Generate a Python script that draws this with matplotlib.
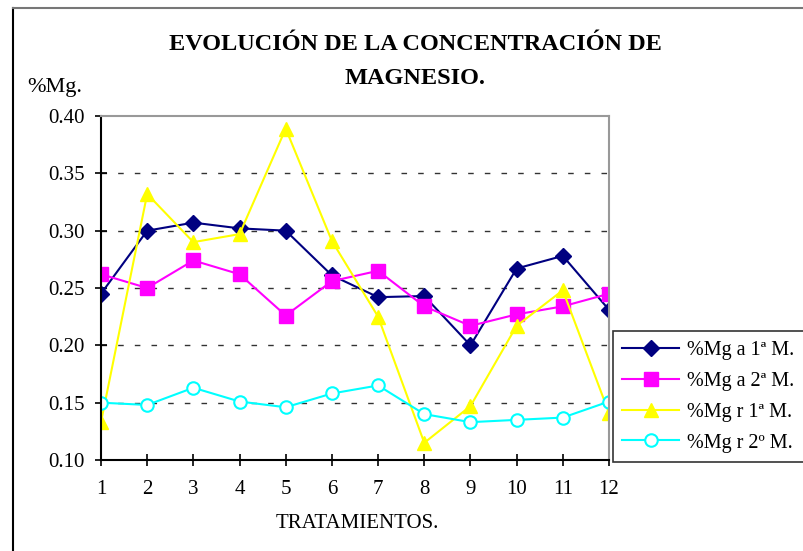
import matplotlib.pyplot as plt
from matplotlib.lines import Line2D

# data
tratamientos = list(range(1, 13))
mg_a_1m = [0.245, 0.300, 0.307, 0.302, 0.300, 0.261, 0.242, 0.243, 0.200, 0.267, 0.278, 0.231]
mg_a_2m = [0.262, 0.250, 0.274, 0.262, 0.226, 0.256, 0.265, 0.234, 0.217, 0.227, 0.234, 0.245]
mg_r_1m = [0.133, 0.332, 0.290, 0.297, 0.389, 0.291, 0.225, 0.115, 0.147, 0.217, 0.248, 0.141]
mg_r_2m = [0.150, 0.148, 0.163, 0.151, 0.146, 0.158, 0.165, 0.140, 0.133, 0.135, 0.137, 0.151]
labels = ['%Mg a 1ª M.', '%Mg a 2ª M.', '%Mg r 1ª M.', '%Mg r 2º M.']

plt.rcParams['font.family'] = ['Liberation Serif', 'DejaVu Serif']

W, H = 804, 551
fig = plt.figure(figsize=(W / 100, H / 100), dpi=100)
ax = fig.add_axes([101 / W, 1 - 460 / H, (609 - 101) / W, (460 - 116) / H])

# outer chart border (left and top edges are visible)
fig.add_artist(Line2D([13 / W, 13 / W], [0, 1 - 7.5 / H], transform=fig.transFigure,
                      color='black', lw=1.5))
fig.add_artist(Line2D([13 / W, 1], [1 - 7.5 / H, 1 - 7.5 / H], transform=fig.transFigure,
                      color='#777777', lw=1.5))

ax.plot(tratamientos, mg_a_1m, color='#000080', marker='D', markersize=8, lw=1.5, label=labels[0])
ax.plot(tratamientos, mg_a_2m, color='#FF00FF', marker='s', markersize=10, lw=1.5, label=labels[1])
ax.plot(tratamientos, mg_r_1m, color='#FFFF00', marker='^', markersize=10, lw=1.5, label=labels[2])
ax.plot(tratamientos, mg_r_2m, color='#00FFFF', marker='o', markersize=9, lw=1.5,
        markerfacecolor='white', markeredgewidth=1.5, label=labels[3])

ax.set_xlim(1, 12)
ax.set_ylim(0.10, 0.40)
ax.set_xticks(tratamientos)
ax.set_yticks([0.10, 0.15, 0.20, 0.25, 0.30, 0.35, 0.40])
ax.yaxis.set_major_formatter(plt.FuncFormatter(lambda v, p: '%.2f' % v))
ax.tick_params(labelsize=15, direction='inout', length=9, width=1.2)
ax.tick_params(axis='x', pad=10)
ax.tick_params(axis='y', pad=7)

for v in [0.15, 0.20, 0.25, 0.30, 0.35]:
    ax.axhline(v, color='#333333', linestyle=(0, (4, 8)), lw=1, zorder=0)

ax.spines['left'].set_linewidth(1.5)
ax.spines['bottom'].set_linewidth(1.5)
ax.spines['top'].set_color('#999999')
ax.spines['right'].set_color('#999999')
ax.spines['top'].set_linewidth(1.5)
ax.spines['right'].set_linewidth(1.5)

fig.text(415 / W, 1 - 44 / H, 'EVOLUCIÓN DE LA CONCENTRACIÓN DE', ha='center', va='center',
         fontsize=17.5, fontweight='bold')
fig.text(415 / W, 1 - 78 / H, 'MAGNESIO.', ha='center', va='center', fontsize=17.5,
         fontweight='bold')
fig.text(27 / W, 1 - 88 / H, '%Mg.', ha='left', va='center', fontsize=16)
fig.text(357 / W, 1 - 523 / H, 'TRATAMIENTOS.', ha='center', va='center', fontsize=15)

leg = fig.legend(loc='lower left', bbox_to_anchor=(613 / W, 1 - 462 / H, 1.0, (462 - 330) / H),
                 mode='expand', fontsize=14.5, frameon=True, fancybox=False, edgecolor='black',
                 handlelength=2.8, borderpad=0.47, labelspacing=0.59, handletextpad=0.4,
                 borderaxespad=0)
leg.get_frame().set_linewidth(1.2)

fig.savefig('out.png', dpi=100)
